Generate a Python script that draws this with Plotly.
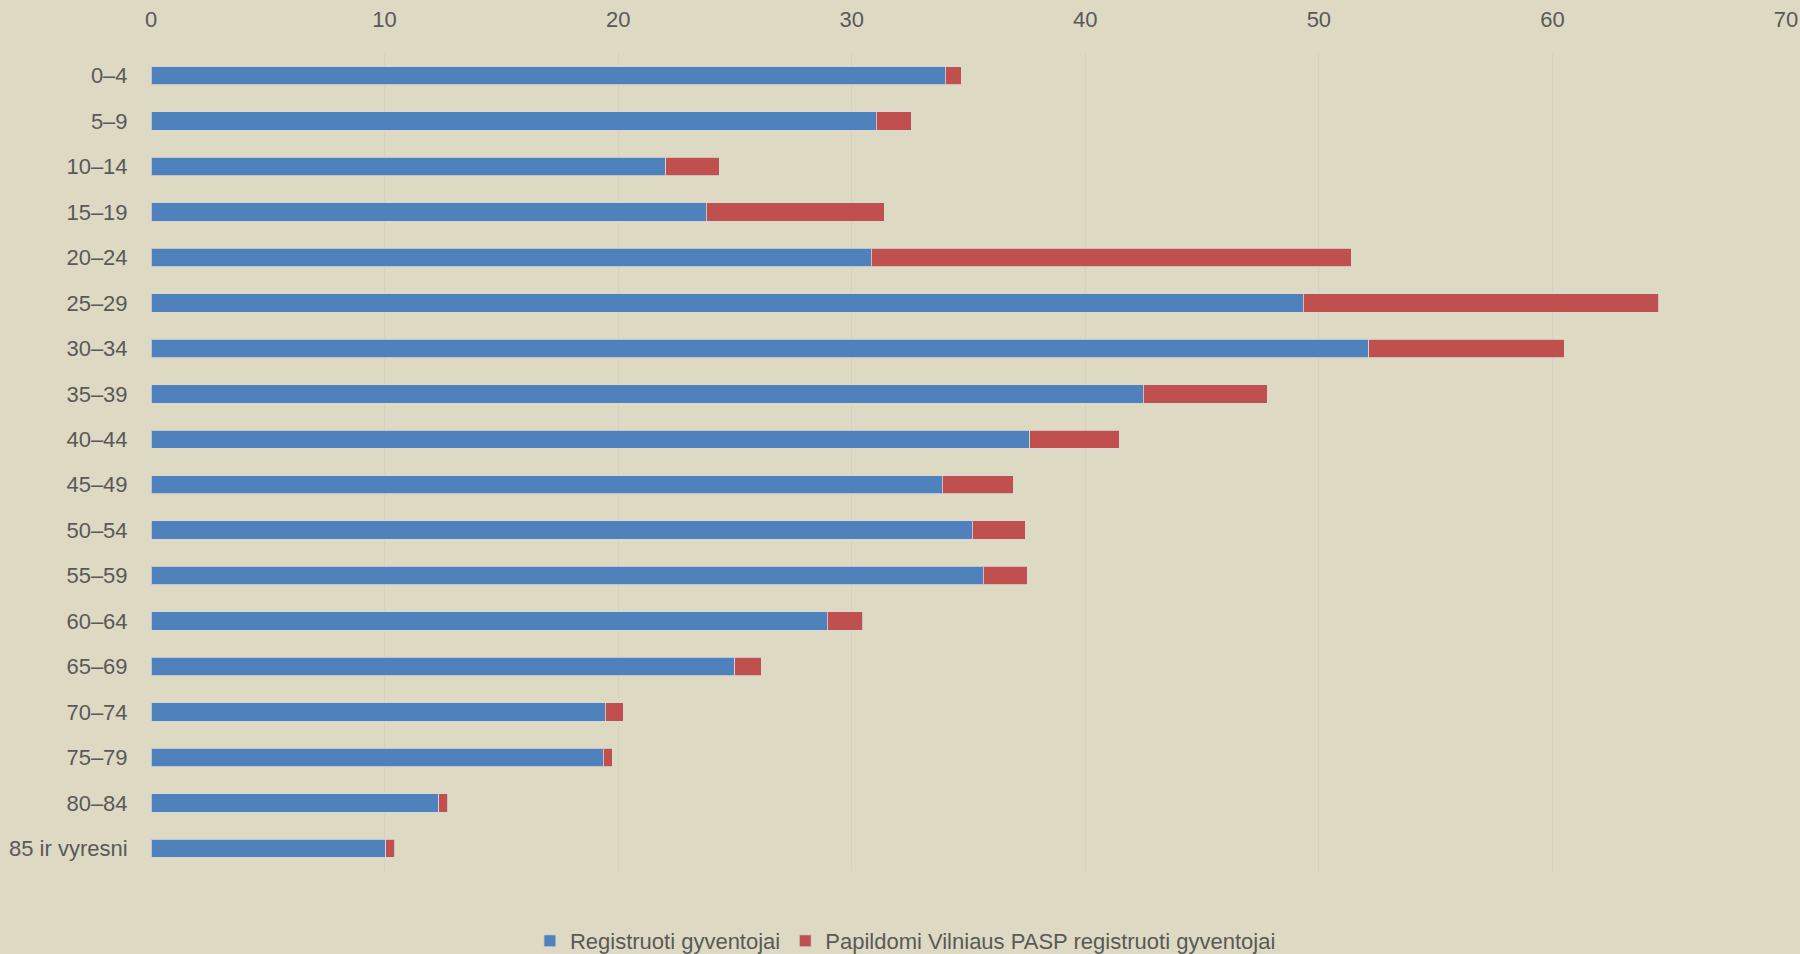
import plotly.graph_objects as go

categories = ["0–4", "5–9", "10–14", "15–19", "20–24", "25–29", "30–34", "35–39",
              "40–44", "45–49", "50–54", "55–59", "60–64", "65–69", "70–74",
              "75–79", "80–84", "85 ir vyresni"]

registruoti = [34.0, 31.05, 22.04, 23.78, 30.83, 49.34, 52.14, 42.48,
               37.63, 33.88, 35.15, 35.63, 28.95, 24.99, 19.44, 19.36, 12.32, 10.05]

totals = [34.7, 32.55, 24.33, 31.40, 51.38, 64.55, 60.50, 47.80,
          41.45, 36.92, 37.43, 37.51, 30.47, 26.13, 20.21, 19.74, 12.70, 10.44]

papildomi = [round(t - r, 2) for t, r in zip(totals, registruoti)]

series_names = ["Registruoti gyventojai", "Papildomi Vilniaus PASP registruoti gyventojai"]
x_ticks = [0, 10, 20, 30, 40, 50, 60, 70]

BG = "#DDD9C3"
FONT = "Liberation Sans, Arial, sans-serif"
TXT = "#595959"

fig = go.Figure()
fig.add_trace(go.Bar(
    y=categories, x=registruoti, orientation="h", name=series_names[0],
    marker=dict(color="#4F81BD", line=dict(color="rgba(215,215,215,0.8)", width=1)),
))
fig.add_trace(go.Bar(
    y=categories, x=papildomi, orientation="h", name=series_names[1],
    marker=dict(color="#C0504D", line=dict(color="rgba(215,215,215,0.8)", width=1)),
))

fig.update_layout(
    width=1800, height=954,
    barmode="stack", bargap=0.595,
    paper_bgcolor=BG, plot_bgcolor=BG,
    margin=dict(l=151, r=14, t=53, b=83),
    font=dict(family=FONT, size=22, color=TXT),
    showlegend=True,
    legend=dict(orientation="h", xref="container", yref="container",
                x=0.503, xanchor="center", y=0.0136, yanchor="middle",
                font=dict(family=FONT, size=22, color=TXT), bgcolor="rgba(0,0,0,0)",
                traceorder="normal", itemwidth=30),
    xaxis=dict(side="top", range=[0, 70], tickvals=x_ticks, showgrid=True, automargin=False,
               gridcolor="#D3D0C6", gridwidth=1, zeroline=False, showline=False,
               ticks="outside", ticklen=16, tickcolor="rgba(0,0,0,0)",
               tickfont=dict(family=FONT, size=22, color=TXT)),
    yaxis=dict(autorange="reversed", showgrid=False, zeroline=False, showline=False,
               automargin=False,
               ticks="outside", ticklen=18, tickcolor="rgba(0,0,0,0)",
               tickfont=dict(family=FONT, size=22, color=TXT)),
)

fig.write_html("out.html", config={"displayModeBar": False},
               post_script="document.body.style.margin='0';document.body.style.background='#DDD9C3';")
